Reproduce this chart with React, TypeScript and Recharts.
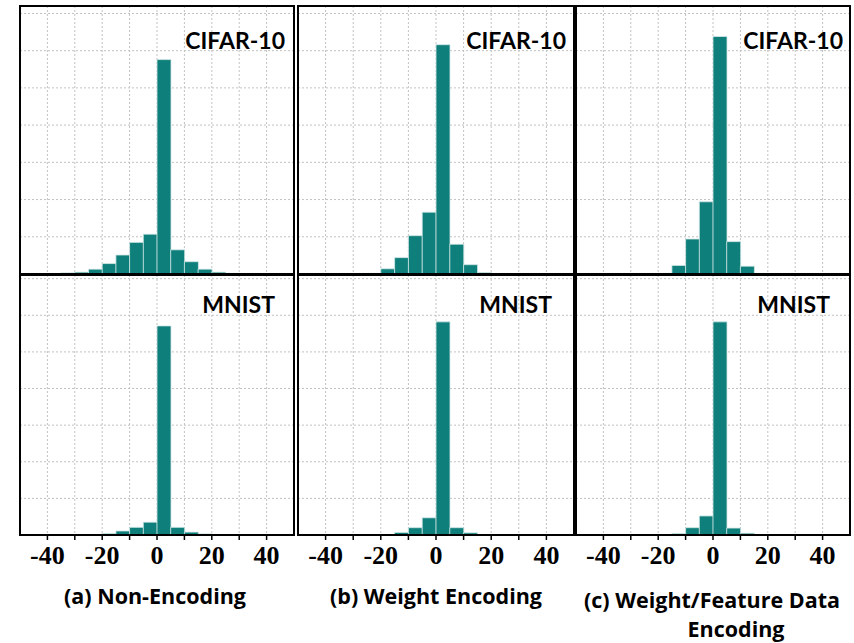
import { Bar, BarChart, CartesianGrid, XAxis, YAxis } from 'recharts'

// left edge of each 5-wide histogram bin
const binStart = [-50, -45, -40, -35, -30, -25, -20, -15, -10, -5, 0, 5, 10, 15, 20, 25, 30, 35, 40, 45]

// fraction of weights per bin
const cifarNonEnc = [0, 0, 0, 0.003, 0.005, 0.013, 0.028, 0.051, 0.085, 0.107, 0.576, 0.065, 0.033, 0.013, 0.005, 0.002, 0, 0, 0, 0]
const cifarWeightEnc = [0, 0, 0, 0, 0, 0.002, 0.014, 0.044, 0.103, 0.166, 0.616, 0.08, 0.025, 0.004, 0, 0, 0, 0, 0, 0]
const cifarFullEnc = [0, 0, 0, 0, 0, 0, 0.002, 0.023, 0.094, 0.194, 0.638, 0.087, 0.021, 0.002, 0, 0, 0, 0, 0, 0]
const mnistNonEnc = [0, 0, 0, 0, 0, 0, 0.004, 0.011, 0.021, 0.035, 0.571, 0.021, 0.008, 0.003, 0, 0, 0, 0, 0, 0]
const mnistWeightEnc = [0, 0, 0, 0, 0, 0, 0, 0.007, 0.02, 0.047, 0.582, 0.02, 0.006, 0, 0, 0, 0, 0, 0, 0]
const mnistFullEnc = [0, 0, 0, 0, 0, 0, 0, 0.004, 0.02, 0.052, 0.582, 0.019, 0.005, 0, 0, 0, 0, 0, 0, 0]

const xTicks = [-40, -30, -20, -10, 0, 10, 20, 30, 40]
const xLabelled = [-40, -20, 0, 20, 40]
const yTicks = [0.1, 0.2, 0.3, 0.4, 0.5, 0.6, 0.7]

const captions = ['(a) Non-Encoding', '(b) Weight Encoding', '(c) Weight/Feature Data', 'Encoding']

const TEAL = '#0f7f7b'
const TITLE_FONT = 'Lato, "Open Sans", sans-serif'
const CAPTION_FONT = '"Open Sans", Lato, sans-serif'
const TICK_FONT = '"Liberation Serif", serif'

function toRows(values: number[]) {
  return binStart.map((b, i) => ({ bin: String(b), mid: b + 2.5, p: values[i] }))
}

interface PanelProps {
  left: number
  top: number
  width: number
  height: number
  yMax: number
  values: number[]
  showAxis: boolean
}

function Panel({ left, top, width, height, yMax, values, showAxis }: PanelProps) {
  const axisH = showAxis ? 46 : 0
  return (
    <>
      <div style={{ position: 'absolute', left, top, fontFamily: TICK_FONT, fontWeight: 700, fontSize: 26 }}>
        <BarChart
          width={width}
          height={height + axisH}
          data={toRows(values)}
          margin={{ top: 0, right: 0, bottom: 0, left: 0 }}
          barCategoryGap={0}
          barGap={0}
          style={{ overflow: 'visible', fontFamily: TICK_FONT, fontWeight: 700, fontSize: 26 }}
        >
          <CartesianGrid xAxisId="num" stroke="#c2c2c2" strokeDasharray="2 2" />
          <XAxis xAxisId="cat" dataKey="bin" orientation="top" height={0} hide />
          <XAxis
            xAxisId="num"
            dataKey="mid"
            type="number"
            domain={[-50, 50]}
            ticks={xTicks}
            allowDataOverflow
            hide={!showAxis}
            height={axisH}
            interval={0}
            fontSize={26}
            fontFamily={TICK_FONT}
            fontWeight={700}
            tickFormatter={(v: number) => (xLabelled.includes(v) ? String(v) : '')}
            tick={{ fill: '#000', fontSize: 26, fontFamily: TICK_FONT, fontWeight: 700 }}
            axisLine={{ stroke: '#000', strokeWidth: 2 }}
            tickLine={{ stroke: '#000', strokeWidth: 1.5 }}
            tickSize={5}
            tickMargin={6}
          />
          <YAxis domain={[0, yMax]} ticks={yTicks} hide allowDataOverflow />
          <Bar
            xAxisId="cat"
            dataKey="p"
            fill={TEAL}
            stroke="#d4e9e7"
            strokeWidth={0.8}
            isAnimationActive={false}
          />
        </BarChart>
      </div>
      <div
        style={{
          position: 'absolute',
          left: left - 1,
          top: top - 1,
          width: width + 2,
          height: height + 2,
          border: '2px solid #000',
          boxSizing: 'border-box',
        }}
      />
    </>
  )
}

const cols = [
  { left: 20, width: 274 },
  { left: 298, width: 276 },
  { left: 576, width: 274 },
]
const topRow = [cifarNonEnc, cifarWeightEnc, cifarFullEnc]
const bottomRow = [mnistNonEnc, mnistWeightEnc, mnistFullEnc]
const cifarRight = [285, 566, 843]
const mnistRight = [275, 552, 830]

export default function App() {
  return (
    <div style={{ position: 'absolute', left: 0, top: 0, width: 854, height: 643, background: '#fff' }}>
      {cols.map((c, i) => (
        <Panel key={'t' + i} left={c.left} top={6} width={c.width} height={268} yMax={0.72} values={topRow[i]} showAxis={false} />
      ))}
      {cols.map((c, i) => (
        <Panel key={'b' + i} left={c.left} top={275} width={c.width} height={260} yMax={0.71} values={bottomRow[i]} showAxis />
      ))}
      <svg width={854} height={643} style={{ position: 'absolute', left: 0, top: 0, pointerEvents: 'none' }}>
        {cifarRight.map((x, i) => (
          <text key={'c' + i} x={x} y={49} textAnchor="end" fontFamily={TITLE_FONT} fontWeight={700} fontSize={23} fill="#000">
            CIFAR-10
          </text>
        ))}
        {mnistRight.map((x, i) => (
          <text key={'m' + i} x={x} y={313} textAnchor="end" fontFamily={TITLE_FONT} fontWeight={700} fontSize={23} fill="#000">
            MNIST
          </text>
        ))}
        <text x={155} y={604} textAnchor="middle" fontFamily={CAPTION_FONT} fontWeight={700} fontSize={21.5}>{captions[0]}</text>
        <text x={436} y={604} textAnchor="middle" fontFamily={CAPTION_FONT} fontWeight={700} fontSize={21.5}>{captions[1]}</text>
        <text x={712} y={608} textAnchor="middle" fontFamily={CAPTION_FONT} fontWeight={700} fontSize={21.5}>{captions[2]}</text>
        <text x={736} y={637} textAnchor="middle" fontFamily={CAPTION_FONT} fontWeight={700} fontSize={21.5}>{captions[3]}</text>
      </svg>
    </div>
  )
}
